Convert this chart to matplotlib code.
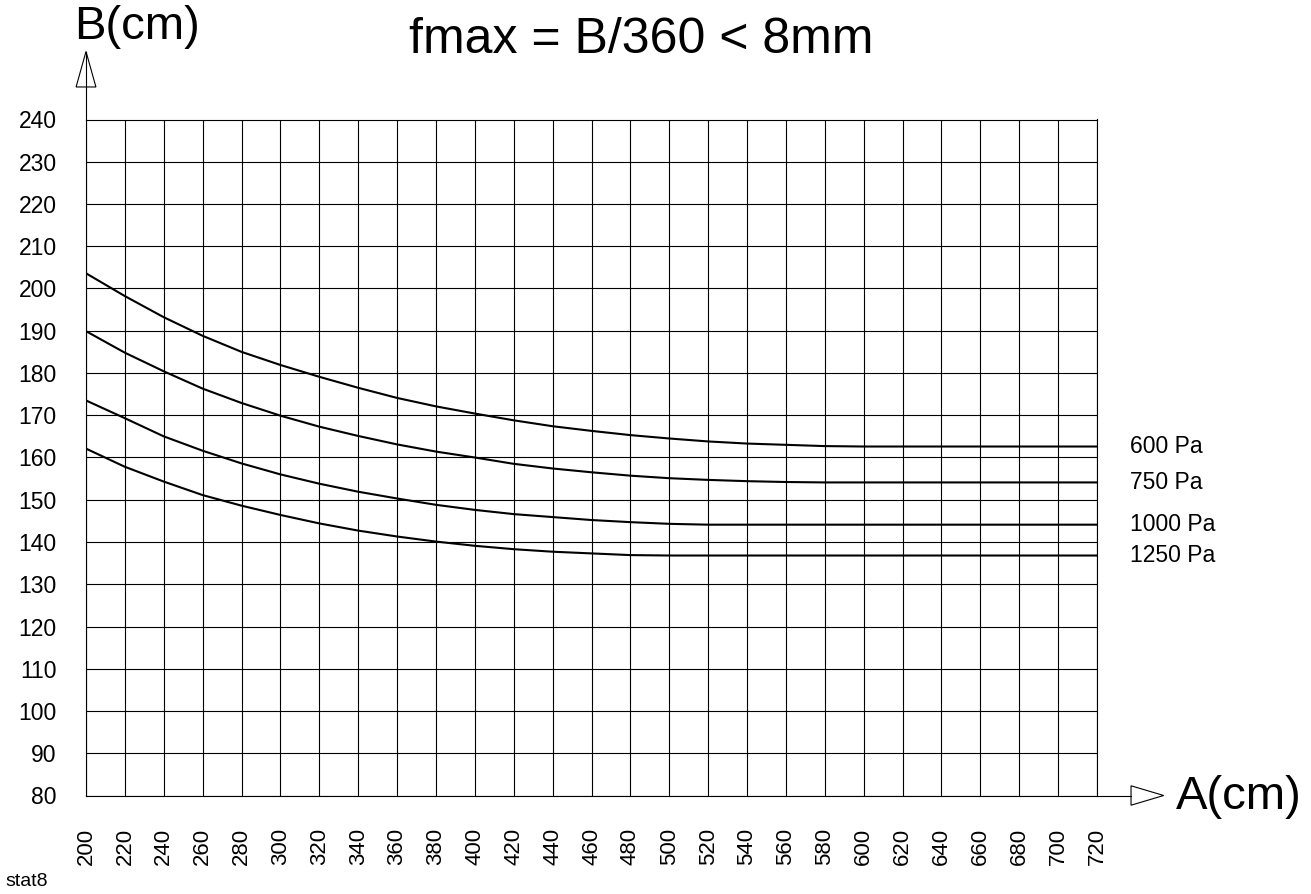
import matplotlib
matplotlib.use("Agg")
import matplotlib.pyplot as plt
from matplotlib.patches import Polygon
import numpy as np

plt.rcParams['font.family'] = ['Liberation Sans', 'DejaVu Sans']

A = list(range(200, 721, 20))
B_600 = [203.6, 198.2, 193.2, 188.8, 185.0, 181.9, 179.1, 176.5, 174.1, 172.1, 170.4,
         168.8, 167.4, 166.3, 165.3, 164.5, 163.8, 163.3, 163.0, 162.7, 162.6, 162.6,
         162.6, 162.6, 162.6, 162.6, 162.6]
B_750 = [189.9, 184.8, 180.4, 176.3, 172.9, 169.9, 167.3, 165.1, 163.1, 161.4, 160.0,
         158.5, 157.4, 156.5, 155.7, 155.1, 154.7, 154.4, 154.2, 154.1, 154.1, 154.1,
         154.1, 154.1, 154.1, 154.1, 154.1]
B_1000 = [173.5, 169.3, 165.0, 161.6, 158.6, 156.0, 153.8, 151.9, 150.3, 148.8, 147.6,
          146.6, 145.9, 145.2, 144.7, 144.3, 144.1, 144.1, 144.1, 144.1, 144.1, 144.1,
          144.1, 144.1, 144.1, 144.1, 144.1]
B_1250 = [162.1, 157.8, 154.3, 151.1, 148.6, 146.4, 144.4, 142.7, 141.3, 140.1, 139.1,
          138.3, 137.7, 137.3, 136.9, 136.8, 136.8, 136.8, 136.8, 136.8, 136.8, 136.8,
          136.8, 136.8, 136.8, 136.8, 136.8]
series = [("600 Pa", B_600), ("750 Pa", B_750), ("1000 Pa", B_1000), ("1250 Pa", B_1250)]
y_ticks = list(range(80, 241, 10))
x_ticks = A

W, H = 1311, 894
fig = plt.figure(figsize=(W / 100, H / 100), dpi=100)
x0, x1, y0, y1 = 86, 1097, 119.5, 795.5
ax = fig.add_axes([x0 / W, 1 - y1 / H, (x1 - x0) / W, (y1 - y0) / H])
ax.set_xlim(200, 720)
ax.set_ylim(80, 240)
ax.set_xticks(x_ticks)
ax.set_yticks(y_ticks)
ax.set_xticklabels([str(v) for v in x_ticks], rotation=90, fontsize=16)
ax.set_yticklabels([str(v) for v in y_ticks], fontsize=16.5)
ax.tick_params(length=0)
ax.tick_params(axis='y', pad=21)
ax.tick_params(axis='x', pad=23)
ax.grid(True, color='black', lw=0.8)
for s in ax.spines.values():
    s.set_color('black')
    s.set_linewidth(0.8)

for name, vals in series:
    ax.plot(A, vals, color='black', lw=1.5, solid_joinstyle='round')
    ax.text(737, vals[-1], name, fontsize=16.5, va='center', ha='left', clip_on=False)

# axis arrows
ax.plot([200, 200], [240, 256], color='black', lw=0.8, clip_on=False)
ax.add_patch(Polygon([[194.9, 247.7], [205.1, 247.7], [200, 256.1]], closed=True,
                     facecolor='white', edgecolor='black', lw=0.8, clip_on=False))
ax.plot([720, 737.5], [80, 80], color='black', lw=0.8, clip_on=False)
ax.add_patch(Polygon([[737.5, 82.3], [737.5, 77.7], [754.3, 80]], closed=True,
                     facecolor='white', edgecolor='black', lw=0.8, clip_on=False))

fig.text(137 / W, 1 - 27 / H, "B(cm)", fontsize=34, ha='center', va='center')
fig.text(1239 / W, 1 - 797 / H, "A(cm)", fontsize=34, ha='center', va='center')
fig.text(641.5 / W, 1 - 40 / H, "fmax = B/360 < 8mm", fontsize=36, ha='center', va='center')
fig.text(5 / W, 1 - 882 / H, "stat8", fontsize=14, ha='left', va='center')

fig.savefig("out.png", dpi=100)
